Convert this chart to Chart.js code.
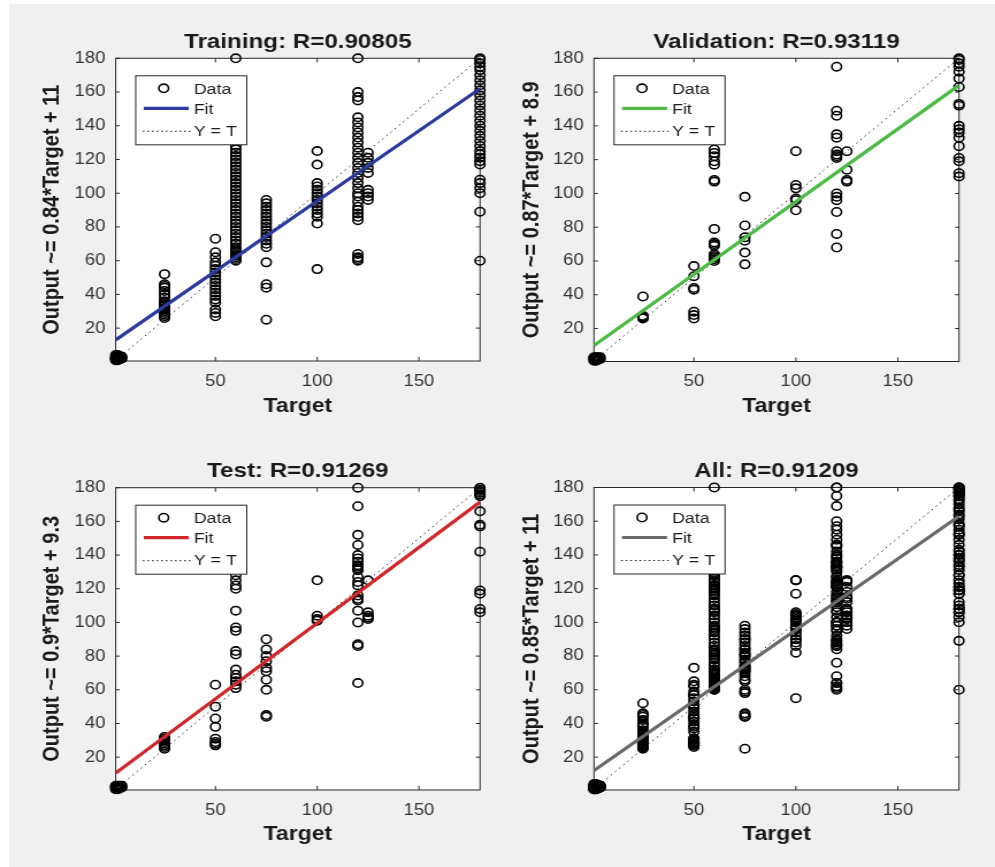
<!DOCTYPE html>
<html><head><meta charset="utf-8">
<script src="https://cdn.jsdelivr.net/npm/chart.js@4.4.1/dist/chart.umd.min.js"></script>
<style>
html,body{margin:0;padding:0;background:#fff;width:995px;height:867px;overflow:hidden;}
#bg{position:absolute;left:9px;top:4px;right:0;bottom:0;background:#f0f0f1;}
.panel{position:absolute;transform-origin:0 0;}
canvas{display:block;}
</style></head><body>
<div id="bg"></div>
<div class="panel" id="p0"><canvas id="c0"></canvas></div>
<div class="panel" id="p1"><canvas id="c1"></canvas></div>
<div class="panel" id="p2"><canvas id="c2"></canvas></div>
<div class="panel" id="p3"><canvas id="c3"></canvas></div>
<script>
// ---------------- DATA ----------------
const xTickValues = [50, 100, 150];
const yTickValues = [20, 40, 60, 80, 100, 120, 140, 160, 180];
const legendLabels = ['Data', 'Fit', 'Y = T'];
const xAxisLabel = 'Target';

const panelTitles = ['Training: R=0.90805', 'Validation: R=0.93119', 'Test: R=0.91269', 'All: R=0.91209'];
const panelYLabels = ['Output ~= 0.84*Target + 11', 'Output ~= 0.87*Target + 8.9', 'Output ~= 0.9*Target + 9.3', 'Output ~= 0.85*Target + 11'];

// Training
const trainTargets = [1, 2, 3, 4, 25, 50, 60, 75, 100, 120, 125, 180];
const trainOutputs = [
  [1, 2, 3, 4, 2.5, 1.5],
  [1, 2, 3, 4, 2.5],
  [1.5, 3, 2, 3.5],
  [2, 3],
  [26, 27, 28, 29, 30, 31, 32, 33, 34, 35, 36, 38, 40, 42, 44, 45, 46, 52],
  [27, 29, 31, 35, 37, 39, 41, 43, 45, 47, 49, 51, 53, 55, 57, 59, 62, 65, 73],
  [60, 61, 62, 63, 64, 65, 66, 67, 68, 70, 72, 74, 76, 78, 80, 82, 84, 86, 88, 90, 92, 94, 96, 98, 100, 102, 104, 106, 108, 110, 112, 114, 116, 118, 120, 122, 124, 126, 128, 131, 134, 137, 140, 180],
  [25, 44, 46, 59, 68, 70, 72, 74, 76, 78, 80, 82, 84, 86, 88, 90, 92, 94, 96],
  [55, 82, 86, 88, 90, 92, 94, 96, 98, 100, 102, 104, 106, 117, 125],
  [60, 61, 62, 64, 84, 86, 88, 90, 92, 95, 98, 100, 103, 106, 109, 112, 115, 118, 121, 124, 127, 130, 133, 136, 139, 142, 145, 155, 157, 160, 180],
  [96, 98, 100, 102, 112, 115, 118, 121, 124],
  [60, 89, 100, 103, 106, 108, 117, 119, 121, 123, 125, 128, 131, 134, 137, 140, 143, 146, 149, 152, 155, 158, 161, 164, 167, 170, 173, 175, 177, 179, 180]
];
const trainFit = [[1, 13], [180, 162]];

// Validation
const valTargets = [1, 2, 3, 4, 25, 50, 60, 75, 100, 120, 125, 180];
const valOutputs = [
  [1, 2, 3, 2.5],
  [1, 2, 3],
  [2, 1.5, 3],
  [2, 3],
  [26, 26.5, 27, 27.5, 39],
  [26, 28, 30, 43, 44, 51, 57],
  [60, 61, 62, 63, 64, 69, 70, 71, 79, 107, 108, 117, 119, 122, 124, 126],
  [58, 65, 72, 74, 81, 98],
  [90, 96, 97, 103, 105, 125],
  [68, 76, 89, 96, 98, 100, 121, 122, 123, 125, 133, 135, 146, 149, 175],
  [107, 108, 114, 125],
  [110, 112, 119, 121, 128, 133, 136, 138, 140, 152, 153, 163, 168, 172, 175, 177, 179, 180]
];
const valFit = [[1, 10], [180, 164]];

// Test
const testTargets = [1, 2, 3, 4, 25, 50, 60, 75, 100, 120, 125, 180];
const testOutputs = [
  [1, 2, 3, 2.5],
  [1, 2, 3],
  [2, 3, 1.5],
  [2, 3],
  [25, 26, 27, 28, 29, 30, 31, 32],
  [27, 28, 29, 31, 38, 43, 50, 63],
  [61, 63, 65, 67, 69, 72, 81, 83, 95, 97, 107, 120, 122, 125, 128],
  [44, 45, 60, 66, 71, 73, 77, 80, 84, 90],
  [101, 102, 104, 125],
  [64, 86, 87, 100, 107, 113, 114, 116, 122, 124, 127, 131, 132, 133, 134, 136, 138, 140, 146, 152, 169, 180],
  [102, 103, 104, 106, 125],
  [106, 108, 117, 119, 142, 157, 158, 166, 175, 176, 177, 178, 179, 180]
];
const testFit = [[1, 10.5], [180, 171.5]];

// All (union of the three sets)
const allFit = [[1, 12], [180, 163]];
const identityLine = [[1, 1], [180, 180]];

// ---------------- LAYOUT / STYLE ----------------
const S = 1.15; // horizontal stretch of the reference figure
const FONT = '"Liberation Sans", Arial, Helvetica, sans-serif';
const fitColors = ['#2b3a9e', '#4dbb45', '#d1272b', '#6a6a6a'];
const layouts = [
  { box: [0, 0, 497, 430],   area: [115.7, 58.3, 480, 361],   yTitleX: 52,    xTitleY: 406.5 },
  { box: [497, 0, 498, 430], area: [594, 58.3, 959, 361.5],   yTitleX: 531.7, xTitleY: 406.5 },
  { box: [0, 430, 497, 437], area: [115.7, 487.7, 480, 790],  yTitleX: 52,    xTitleY: 834.5 },
  { box: [497, 430, 498, 437], area: [594, 487.5, 959, 790],  yTitleX: 531.7, xTitleY: 834.5 }
];

function toPoints(targets, outputs) {
  const pts = [];
  targets.forEach((t, i) => outputs[i].forEach(o => pts.push({ x: t, y: o })));
  return pts;
}
const pairsToPoints = (arr) => arr.map(p => ({ x: p[0], y: p[1] }));

const trainPts = toPoints(trainTargets, trainOutputs);
const valPts = toPoints(valTargets, valOutputs);
const testPts = toPoints(testTargets, testOutputs);
const allPts = trainPts.concat(valPts, testPts);
const dataSets = [trainPts, valPts, testPts, allPts];
const fits = [trainFit, valFit, testFit, allFit];

const MARK_R = 4.2, MARK_W = 1.6;

const framePlugin = {
  id: 'frame',
  beforeDraw(chart) {
    const a = chart.chartArea, ctx = chart.ctx;
    ctx.save();
    ctx.fillStyle = '#ffffff';
    ctx.fillRect(a.left, a.top, a.right - a.left, a.bottom - a.top);
    ctx.restore();
  },
  beforeDatasetsDraw(chart) {
    const a = chart.chartArea, ctx = chart.ctx;
    const xs = chart.scales.x, ys = chart.scales.y;
    ctx.save();
    ctx.strokeStyle = '#262626';
    ctx.lineWidth = 1;
    ctx.strokeRect(a.left, a.top, a.right - a.left, a.bottom - a.top);
    ctx.beginPath();
    xTickValues.forEach(v => {
      const px = xs.getPixelForValue(v);
      ctx.moveTo(px, a.bottom); ctx.lineTo(px, a.bottom - 4);
      ctx.moveTo(px, a.top); ctx.lineTo(px, a.top + 4);
    });
    yTickValues.forEach(v => {
      const py = ys.getPixelForValue(v);
      ctx.moveTo(a.left, py); ctx.lineTo(a.left + 4 / S, py);
      ctx.moveTo(a.right, py); ctx.lineTo(a.right - 4 / S, py);
    });
    ctx.stroke();
    ctx.restore();
  },
  afterDraw(chart) {
    const a = chart.chartArea, ctx = chart.ctx;
    const color = chart.options.plugins.frame.color;
    const lx = a.left + 20 / S, ly = a.top + 17.5, lw = 111 / S, lh = 69;
    ctx.save();
    ctx.fillStyle = '#ffffff';
    ctx.fillRect(lx, ly, lw, lh);
    ctx.strokeStyle = '#262626';
    ctx.lineWidth = 1;
    ctx.strokeRect(lx, ly, lw, lh);
    // Data marker
    ctx.beginPath();
    ctx.arc(lx + 28 / S, ly + 12.5, MARK_R, 0, Math.PI * 2);
    ctx.lineWidth = MARK_W;
    ctx.strokeStyle = '#000';
    ctx.stroke();
    // Fit line
    ctx.beginPath();
    ctx.moveTo(lx + 8 / S, ly + 32.5); ctx.lineTo(lx + 53 / S, ly + 32.5);
    ctx.lineWidth = 3.2; ctx.strokeStyle = color; ctx.stroke();
    // Y = T
    ctx.beginPath();
    ctx.setLineDash([1.5, 2.5]);
    ctx.moveTo(lx + 7 / S, ly + 55.5); ctx.lineTo(lx + 55 / S, ly + 55.5);
    ctx.lineWidth = 1; ctx.strokeStyle = '#222'; ctx.stroke();
    ctx.setLineDash([]);
    // texts
    ctx.fillStyle = '#1e1e1e';
    ctx.font = '15.5px ' + FONT;
    ctx.textBaseline = 'middle';
    ctx.textAlign = 'left';
    ctx.fillText(legendLabels[0], lx + 58 / S, ly + 14);
    ctx.fillText(legendLabels[1], lx + 58 / S, ly + 34);
    ctx.fillText(legendLabels[2], lx + 58 / S, ly + 56);
    ctx.restore();
  }
};

layouts.forEach((L, i) => {
  const [bx, by, bw, bh] = L.box;
  const cw = Math.round(bw / S), ch = bh;
  const div = document.getElementById('p' + i);
  div.style.left = bx + 'px';
  div.style.top = by + 'px';
  div.style.width = cw + 'px';
  div.style.height = ch + 'px';
  div.style.transform = 'scaleX(' + (bw / cw) + ')';
  const cv = document.getElementById('c' + i);
  cv.width = cw; cv.height = ch;
  cv.style.width = cw + 'px'; cv.style.height = ch + 'px';
  const k = bw / cw;
  const left = (L.area[0] - bx) / k;
  const right = (L.area[2] - bx) / k;
  const top = L.area[1] - by;
  const bottom = L.area[3] - by;
  const yTitleCenter = (L.yTitleX - bx) / k;
  const xTitlePadBottom = ch - (L.xTitleY - by) - 12;

  new Chart(cv, {
    type: 'scatter',
    data: {
      datasets: [
        { label: legendLabels[1], data: pairsToPoints(fits[i]), showLine: true, borderColor: fitColors[i], borderWidth: 3.2, pointRadius: 0, order: 0 },
        { label: legendLabels[2], data: pairsToPoints(identityLine), showLine: true, borderColor: '#222', borderWidth: 1, borderDash: [1.5, 3.5], pointRadius: 0, order: 1 },
        { label: legendLabels[0], data: dataSets[i], pointStyle: 'circle', pointRadius: MARK_R, borderColor: '#000', backgroundColor: 'rgba(0,0,0,0)', borderWidth: MARK_W, pointBorderWidth: MARK_W, order: 2, clip: false }
      ]
    },
    options: {
      responsive: false, animation: false, devicePixelRatio: 1,
      events: [],
      layout: { padding: { left: 0, top: 0, right: cw - right, bottom: 0 } },
      plugins: {
        legend: { display: false },
        tooltip: { enabled: false },
        frame: { color: fitColors[i] },
        title: {
          display: true, fullSize: false, text: panelTitles[i], color: '#1a1a1a',
          font: { family: FONT, size: 21, weight: 'bold', lineHeight: 1.2 },
          padding: { top: top - 28.9, bottom: 3.7 }
        }
      },
      scales: {
        x: {
          type: 'linear', min: 1, max: 180,
          grid: { display: false, drawTicks: false }, border: { display: false },
          afterBuildTicks: s => { s.ticks = xTickValues.map(v => ({ value: v })); },
          afterFit: s => { s.height = ch - bottom; },
          ticks: { color: '#333333', font: { family: FONT, size: 16 }, padding: 10.5, maxRotation: 0, autoSkip: false },
          title: { display: true, text: xAxisLabel, color: '#1a1a1a', font: { family: FONT, size: 20, weight: 'bold', lineHeight: 1.2 }, padding: { top: 0, bottom: xTitlePadBottom } }
        },
        y: {
          type: 'linear', min: 0.5, max: 180,
          grid: { display: false, drawTicks: false }, border: { display: false },
          afterBuildTicks: s => { s.ticks = yTickValues.map(v => ({ value: v })); },
          afterFit: s => { s.width = left; },
          ticks: { color: '#333333', font: { family: FONT, size: 16 }, padding: 9, autoSkip: false },
          title: { display: true, text: panelYLabels[i], color: '#1a1a1a', font: { family: FONT, size: 20, weight: 'bold', lineHeight: 1.2 }, padding: { top: yTitleCenter - 12, bottom: 0 } }
        }
      }
    },
    plugins: [framePlugin]
  });
});
</script>
</body></html>
